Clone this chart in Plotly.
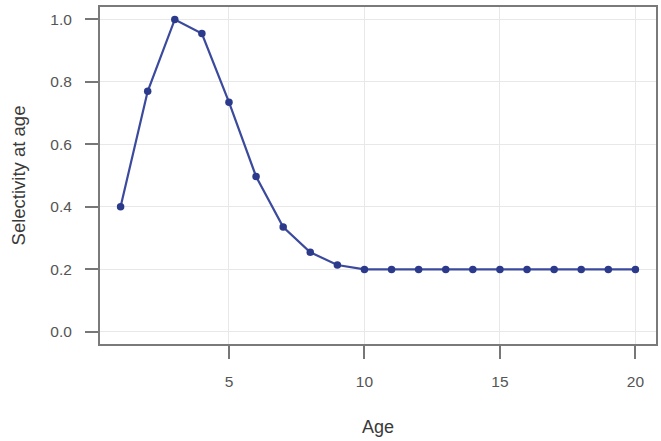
import plotly.graph_objects as go

# Selectivity-at-age curve
ages = list(range(1, 21))
selectivity = [0.40, 0.77, 1.00, 0.955, 0.735, 0.497, 0.335, 0.254, 0.213, 0.199,
               0.199, 0.199, 0.199, 0.199, 0.199, 0.199, 0.199, 0.199, 0.199, 0.199]
x_ticks = [5, 10, 15, 20]
y_ticks = [0.0, 0.2, 0.4, 0.6, 0.8, 1.0]
y_tick_text = ["0.0", "0.2", "0.4", "0.6", "0.8", "1.0"]

line_color = "#3b4a9c"
marker_color = "#2c3a8c"
font_family = "Liberation Sans, Arial, Helvetica, sans-serif"

fig = go.Figure(
    go.Scatter(
        x=ages,
        y=selectivity,
        mode="lines+markers",
        line=dict(color=line_color, width=2.2),
        marker=dict(color=marker_color, size=7.5),
        showlegend=False,
    )
)

axis_style = dict(
    ticks="outside",
    ticklen=13,
    tickwidth=1.5,
    tickcolor="#777",
    showline=True,
    mirror=True,
    linecolor="#7a7a7a",
    linewidth=2,
    showgrid=True,
    gridcolor="#e8e8e8",
    gridwidth=1.2,
    zeroline=False,
    tickfont=dict(size=15.5, color="#555", family=font_family),
)

fig.update_xaxes(
    range=[0.24, 20.76],
    tickvals=x_ticks,
    ticklabelstandoff=9,
    title=dict(text="Age", font=dict(size=18, color="#3a3a3a", family=font_family), standoff=32),
    **axis_style,
)
fig.update_yaxes(
    range=[-0.04, 1.04],
    tickvals=y_ticks,
    ticktext=y_tick_text,
    ticklabelstandoff=10,
    title=dict(text="Selectivity at age", font=dict(size=18.5, color="#3a3a3a", family=font_family), standoff=20),
    **axis_style,
)

fig.update_layout(
    width=661,
    height=441,
    margin=dict(l=100, r=3, t=7, b=97),
    paper_bgcolor="white",
    plot_bgcolor="white",
    font=dict(family=font_family),
)

fig.write_html("out.html")
